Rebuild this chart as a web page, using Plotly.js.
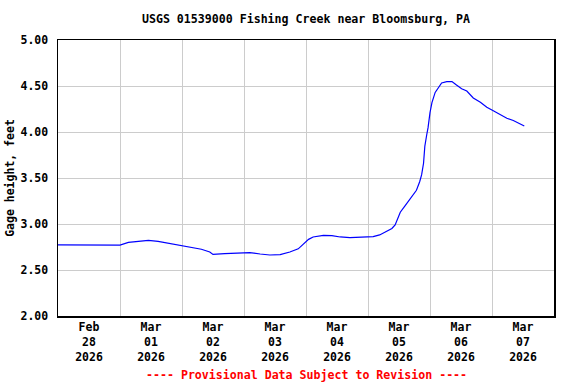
<!DOCTYPE html>
<html>
<head>
<meta charset="utf-8">
<script src="https://cdn.plot.ly/plotly-3.0.1.min.js"></script>
<style>html,body{margin:0;padding:0;background:#fff}#chart{width:576px;height:384px}</style>
</head>
<body>
<div id="chart"></div>
<script>
const times = [
  "2026-02-28 00:00","2026-02-28 11:45","2026-02-28 16:15","2026-02-28 20:00",
  "2026-03-01 00:00","2026-03-01 03:15","2026-03-01 07:45","2026-03-01 11:00",
  "2026-03-01 14:45","2026-03-01 18:45","2026-03-01 22:30","2026-03-02 03:00",
  "2026-03-02 07:30","2026-03-02 10:45","2026-03-02 12:00","2026-03-02 16:30",
  "2026-03-02 22:30","2026-03-03 02:15","2026-03-03 06:15","2026-03-03 10:00",
  "2026-03-03 14:00","2026-03-03 17:45","2026-03-03 21:00","2026-03-03 23:00",
  "2026-03-04 01:00","2026-03-04 02:45","2026-03-04 06:45","2026-03-04 10:00",
  "2026-03-04 13:15","2026-03-04 17:00","2026-03-04 21:00","2026-03-05 02:00",
  "2026-03-05 04:30","2026-03-05 07:15","2026-03-05 09:15","2026-03-05 10:30",
  "2026-03-05 12:30","2026-03-05 14:15","2026-03-05 17:00","2026-03-05 18:45",
  "2026-03-05 20:00","2026-03-05 20:45","2026-03-05 21:30","2026-03-05 22:00",
  "2026-03-05 22:45","2026-03-05 23:15","2026-03-06 00:00","2026-03-06 00:45",
  "2026-03-06 02:00","2026-03-06 03:15","2026-03-06 04:30","2026-03-06 06:30",
  "2026-03-06 08:30","2026-03-06 10:15","2026-03-06 12:15","2026-03-06 14:15",
  "2026-03-06 16:45","2026-03-06 19:30","2026-03-06 22:00","2026-03-07 00:30",
  "2026-03-07 03:00","2026-03-07 05:45","2026-03-07 08:15","2026-03-07 10:45",
  "2026-03-07 12:30"
];
const gageHeight = [
  2.773,2.770,2.767,2.765,
  2.770,2.800,2.810,2.822,
  2.811,2.790,2.767,2.744,
  2.726,2.696,2.670,2.678,
  2.680,2.689,2.674,2.663,
  2.667,2.696,2.730,2.778,
  2.833,2.859,2.877,2.874,
  2.859,2.852,2.856,2.863,
  2.881,2.918,2.951,2.990,
  3.128,3.194,3.293,3.367,
  3.459,3.533,3.660,3.845,
  3.973,4.047,4.210,4.320,
  4.430,4.486,4.533,4.548,
  4.548,4.510,4.470,4.445,
  4.370,4.323,4.268,4.230,
  4.194,4.150,4.125,4.090,
  4.065
];
const xRange = ["2026-02-28 00:00", "2026-03-08 00:00"];
const yTicks = [2.0, 2.5, 3.0, 3.5, 4.0, 4.5, 5.0];
const yTickText = ["2.00","2.50","3.00","3.50","4.00","4.50","5.00"];
const chartTitle = "USGS 01539000 Fishing Creek near Bloomsburg, PA";
const yTitle = "Gage height, feet";
const footnote = "---- Provisional Data Subject to Revision ----";

const mono = "DejaVu Sans Mono, Liberation Mono, monospace";

Plotly.newPlot("chart", [{
  x: times, y: gageHeight, type: "scatter", mode: "lines",
  line: {color: "#0000ff", width: 1.2}, hoverinfo: "skip"
}], {
  width: 576, height: 384,
  margin: {l: 58, r: 22, t: 40, b: 68},
  paper_bgcolor: "#fff", plot_bgcolor: "#fff",
  showlegend: false,
  font: {family: mono, size: 11, color: "#000", weight: "bold"},
  title: {text: "<b>" + chartTitle + "</b>", font: {family: mono, size: 11.6, color: "#000"},
          x: 306/576, xanchor: "center", xref: "container", y: 1 - 19/384, yanchor: "middle", yref: "container"},
  xaxis: {
    type: "date", range: xRange, dtick: 86400000, tick0: "2026-02-28",
    ticklabelmode: "period", tickformat: "<b>%b</b><br><b>%d</b><br><b>%Y</b>",
    showgrid: true, gridcolor: "#cccccc", gridwidth: 1,
    showline: true, linecolor: "#000", linewidth: 1.5, mirror: true,
    ticks: "", zeroline: false,
    tickfont: {family: mono, size: 11.5, color: "#000"}
  },
  yaxis: {
    range: [2, 5], tickvals: yTicks, ticktext: yTickText.map(t => "<b>" + t + "</b>"),
    showgrid: true, gridcolor: "#cccccc", gridwidth: 1,
    showline: true, linecolor: "#000", linewidth: 1.5, mirror: true,
    ticks: "outside", ticklen: 6, tickcolor: "rgba(0,0,0,0)", zeroline: false,
    tickfont: {family: mono, size: 11.5, color: "#000"},
    title: {text: "<b>" + yTitle + "</b>", font: {family: mono, size: 11.5, color: "#000"}, standoff: 3}
  },
  annotations: [{
    text: "<b>" + footnote + "</b>", xref: "paper", yref: "paper",
    x: 0.5, y: -0.214, xanchor: "center", yanchor: "middle", showarrow: false,
    font: {family: mono, size: 11.6, color: "#ff0000"}
  }]
}, {displayModeBar: false, staticPlot: true});
</script>
</body>
</html>
